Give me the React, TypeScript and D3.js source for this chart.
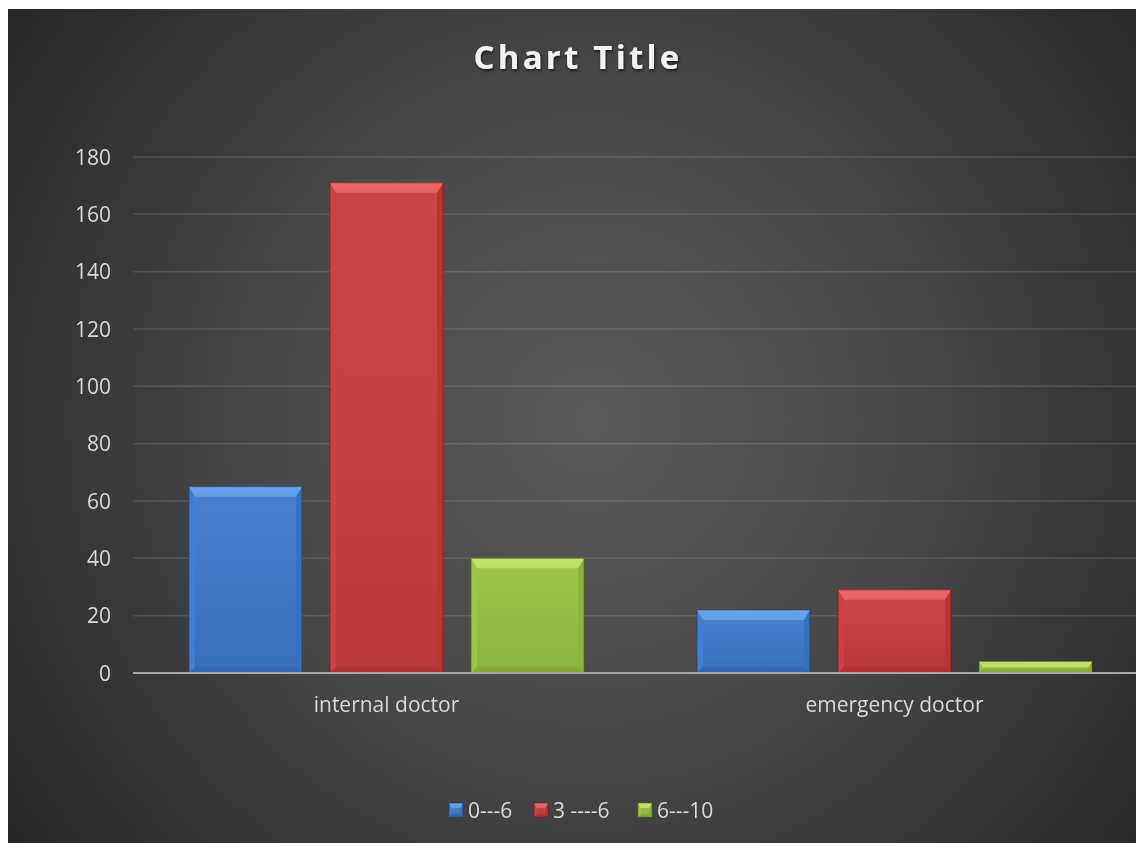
import * as d3 from 'd3'

const categories = ['internal doctor', 'emergency doctor']
const seriesNames = ['0---6', '3 ----6', '6---10']
const values = [
  [65, 171, 40],
  [22, 29, 4],
]
const yTicks = [0, 20, 40, 60, 80, 100, 120, 140, 160, 180]

const palette = [
  {base: '#3a7acb', light: '#64a3ea', mid: '#3e80d2', dark: '#3570bd', bottom: '#3369b2', edge: '#1d3f6e'},
  {base: '#c93b3b', light: '#ec6565', mid: '#cf3f3f', dark: '#b93535', bottom: '#b03131', edge: '#6e1c1c'},
  {base: '#98c23f', light: '#c4e36a', mid: '#9dc743', dark: '#8cb338', bottom: '#86ab34', edge: '#4f6a1c'},
]

const W = 1136
const H = 843

function Bevel({x, y, w, h, c, b}: {x: number; y: number; w: number; h: number; c: typeof palette[0]; b: number}) {
  const bb = Math.min(b, h / 2, w / 2)
  const sb = bb * 0.6
  const poly = (pts: [number, number][]) => pts.map(p => p.join(',')).join(' ')
  return (
    <g>
      <rect x={x} y={y} width={w} height={h} fill={c.base} />
      <rect x={x} y={y} width={w} height={h} fill="url(#barShade)" />
      <polygon points={poly([[x, y], [x + sb, y + bb], [x + sb, y + h - sb], [x, y + h]])} fill={c.mid} />
      <polygon points={poly([[x + w, y], [x + w, y + h], [x + w - sb, y + h - sb], [x + w - sb, y + bb]])} fill={c.dark} />
      <polygon points={poly([[x, y + h], [x + sb, y + h - sb], [x + w - sb, y + h - sb], [x + w, y + h]])} fill={c.bottom} />
      <polygon points={poly([[x, y], [x + w, y], [x + w - sb, y + bb], [x + sb, y + bb]])} fill="url(#topShade)" />
      <polygon points={poly([[x, y], [x + w, y], [x + w - sb, y + bb], [x + sb, y + bb]])} fill={c.light} fillOpacity={0.85} />
      <rect x={x} y={y} width={w} height={h} fill="none" stroke={c.edge} strokeWidth={1} strokeOpacity={0.6} />
    </g>
  )
}

export default function App() {
  const x0 = d3.scaleBand().domain(categories).range([132.5, 1148.5])
  const x1 = d3.scaleBand().domain(seriesNames).range([56.5, x0.bandwidth() - 56.5]).paddingInner(0.2)
  const y = d3.scaleLinear().domain([0, 180]).range([673, 157])

  const font = "'Open Sans', 'Noto Sans', sans-serif"

  const legendX = [449, 534, 638]

  return (
    <svg width={W} height={H} style={{position: 'fixed', left: 0, top: 0}}>
      <defs>
        <radialGradient id="bg" gradientUnits="userSpaceOnUse" cx={590} cy={420} r={760}>
          <stop offset="0" stopColor="#5a5a5a" />
          <stop offset="0.45" stopColor="#474747" />
          <stop offset="1" stopColor="#222222" />
        </radialGradient>
        <linearGradient id="barShade" x1="0" y1="0" x2="0" y2="1">
          <stop offset="0" stopColor="#ffffff" stopOpacity={0.06} />
          <stop offset="1" stopColor="#000000" stopOpacity={0.08} />
        </linearGradient>
        <linearGradient id="topShade" x1="0" y1="0" x2="0" y2="1">
          <stop offset="0" stopColor="#ffffff" stopOpacity={0.3} />
          <stop offset="1" stopColor="#ffffff" stopOpacity={0} />
        </linearGradient>
        <filter id="shadow" x="-20%" y="-20%" width="140%" height="160%">
          <feDropShadow dx="1" dy="2" stdDeviation="1.5" floodColor="#000" floodOpacity="0.6" />
        </filter>
      </defs>
      <rect x={8} y={9} width={W} height={H} fill="url(#bg)" />

      <text x={578} y={69} textAnchor="middle" fontFamily={font} fontWeight={700} fontSize={33}
        letterSpacing={3.2} fill="#f2f2f2" filter="url(#shadow)">Chart Title</text>

      {yTicks.map(t => (
        <g key={t}>
          {t !== 0 && (
            <line x1={133} x2={1150} y1={y(t)} y2={y(t)} stroke="#ffffff" strokeOpacity={0.12} strokeWidth={1.5} />
          )}
          <text x={111} y={y(t)} dy="0.36em" textAnchor="end" fontFamily={font} fontSize={21} fill="#d9d9d9">{t}</text>
        </g>
      ))}

      {categories.map((cat, ci) => (
        <g key={cat} transform={`translate(${x0(cat)},0)`}>
          {seriesNames.map((s, si) => {
            const v = values[ci][si]
            return (
              <Bevel key={s} x={x1(s)!} y={y(v)} w={x1.bandwidth()} h={y(0) - y(v)} c={palette[si]} b={10} />
            )
          })}
          <text x={x0.bandwidth() / 2} y={712} textAnchor="middle" fontFamily={font} fontSize={21} fill="#d9d9d9">{cat}</text>
        </g>
      ))}

      <line x1={133} x2={1150} y1={y(0)} y2={y(0)} stroke="#a6a6a6" strokeWidth={2.2} />

      {seriesNames.map((s, si) => (
        <g key={s}>
          <Bevel x={legendX[si]} y={803} w={14} h={14} c={palette[si]} b={5} />
          <text x={legendX[si] + 19} y={810} dy="0.36em" fontFamily={font} fontSize={21} fill="#d9d9d9">{s}</text>
        </g>
      ))}
    </svg>
  )
}
